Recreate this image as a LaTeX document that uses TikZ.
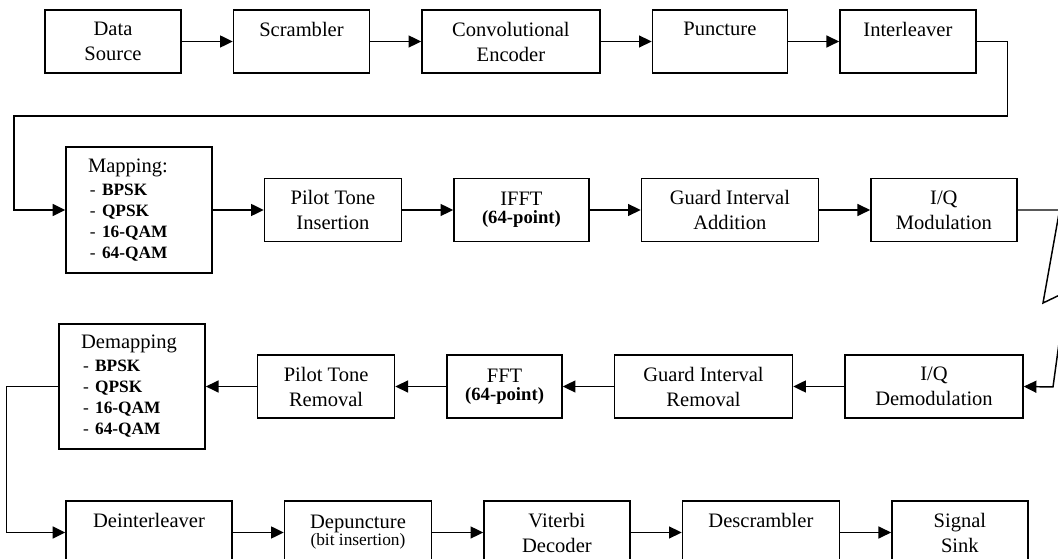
\documentclass[tikz,border=0pt]{standalone}
\usepackage{fontspec}
\setmainfont{Liberation Serif}
\usetikzlibrary{arrows.meta, positioning}
\newcommand{\minor}[1]{{\fontsize{13pt}{15.75pt}\selectfont #1}}
\newcommand{\opt}[1]{\minor{\hspace{1.5pt}\makebox[9pt][l]{-}\textbf{#1}}}
\newcommand{\points}{{\fontsize{14pt}{15.75pt}\selectfont\textbf{(64-point)}}}

\begin{document}
\begin{tikzpicture}[x=0.75pt, y=-0.75pt, node distance=38.25pt, line width=1.1pt,
  block/.style={draw, rectangle, minimum height=47.25pt, inner sep=0pt, align=center, font=\fontsize{15.4pt}{18.75pt}\selectfont},
  listblock/.style={block, minimum width=109.5pt, minimum height=94.5pt, text width=76.5pt, align=left},
  link/.style={-{Triangle[length=9.5pt, width=9pt]}}]
\useasboundingbox (0,0) rectangle (1058,559);
\clip (0,0) rectangle (1058,559);
% transmitter, coding part
\node[block, minimum width=102pt]                    (src)  at (113,41.5) {Data\\Source};
\node[block, minimum width=102pt, right=of src]      (scr)  {Scrambler\\\mbox{}};
\node[block, minimum width=133.5pt, right=of scr]    (conv) {Convolutional\\Encoder};
\node[block, minimum width=101.25pt, right=of conv]  (punc) {Puncture\\\mbox{}};
\node[block, minimum width=102pt, right=of punc]     (intl) {Interleaver\\\mbox{}};
% transmitter, OFDM part
\node[listblock]                                     (map)  at (139,210) {Mapping:\\[-1.5pt]\opt{BPSK}\\[-3pt]\opt{QPSK}\\[-3pt]\opt{16-QAM}\\[-3pt]\opt{64-QAM}};
\node[block, minimum width=102.75pt, right=of map]   (pilot) {Pilot Tone\\Insertion};
\node[block, minimum width=101.25pt, right=of pilot] (ifft) {IFFT\\[-5pt]\points};
\node[block, minimum width=132.75pt, right=of ifft]  (gadd) {Guard Interval\\Addition};
\node[block, minimum width=109.5pt, right=of gadd]   (iqmod) {I/Q\\Modulation};
% receiver, OFDM part
\node[block, minimum width=133.5pt]                  (iqdem) at (934,386.5) {I/Q\\Demodulation};
\node[block, minimum width=133.5pt, left=of iqdem]   (grem) {Guard Interval\\Removal};
\node[block, minimum width=86.25pt, left=of grem]    (fft)  {FFT\\[-5pt]\points};
\node[block, minimum width=102.75pt, left=of fft]    (prem) {Pilot Tone\\Removal};
\node[listblock, minimum height=93.75pt, left=of prem] (demap) {Demapping\\[-1.5pt]\opt{BPSK}\\[-3pt]\opt{QPSK}\\[-3pt]\opt{16-QAM}\\[-3pt]\opt{64-QAM}};
% receiver, decoding part
\node[block, minimum width=124.5pt]                  (dint) at (149,532.5) {Deinterleaver\\\mbox{}};
\node[block, minimum width=110.25pt, right=of dint]  (dpunc) {Depuncture\\[-6pt]\minor{(bit insertion)}};
\node[block, minimum width=109.5pt, right=of dpunc]  (vit)  {Viterbi\\Decoder};
\node[block, minimum width=117.75pt, right=of vit]   (dscr) {Descrambler\\\mbox{}};
\node[block, minimum width=102pt, right=of dscr]     (sink) {Signal\\Sink};

\path[link]
(src) edge (scr) (scr) edge (conv) (conv) edge (punc) (punc) edge (intl)
(map) edge (pilot) (pilot) edge (ifft) (ifft) edge (gadd) (gadd) edge (iqmod)
(iqdem) edge (grem) (grem) edge (fft) (fft) edge (prem) (prem) edge (demap)
(dint) edge (dpunc) (dpunc) edge (vit) (vit) edge (dscr) (dscr) edge (sink);
\draw[link] (intl.east) -- ++(31,0) |- (14,116) |- (map.west);
\draw[link] (iqmod.east) -- ++(42,0) -- (1043,303) -- (1066,292) -- (1053,387) -- (iqdem.east);
\draw[link] (demap.west) -- ++(-52,0) |- (dint.west);
\end{tikzpicture}
\end{document}
